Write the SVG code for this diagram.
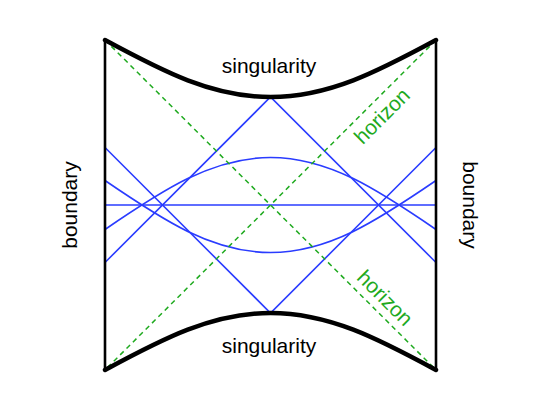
<svg xmlns="http://www.w3.org/2000/svg" width="545" height="402" viewBox="0 0 545 402">
<style>
.lbl{font-family:"Liberation Sans",Arial,sans-serif;font-size:21px;fill:#000;text-anchor:middle}
.hz{font-family:"Liberation Sans",Arial,sans-serif;font-size:21px;fill:#1faa1f;text-anchor:middle}
.bnd{fill:none;stroke:#000;stroke-width:2.6}
.sing{fill:none;stroke:#000;stroke-width:4.5;stroke-linecap:round}
.ray{fill:none;stroke:#2a3cff;stroke-width:1.6}
.hor{fill:none;stroke:#1faa1f;stroke-width:1.5;stroke-dasharray:5,4}
</style>
<rect width="545" height="402" fill="#fff"/>
<g id="connectors">
  <path class="ray" d="M105,205 H436"/>
  <path class="ray" d="M105,262.5 L270.5,97 L436,262.5"/>
  <path class="ray" d="M105,147.5 L270.5,313 L436,147.5"/>
  <path class="ray" d="M105,180.5 C163.2,220.3 212.3,252.5 270.5,252.5 C328.7,252.5 377.8,220.3 436,180.5"/>
  <path class="ray" d="M105,229.5 C163.2,189.7 212.3,157.5 270.5,157.5 C328.7,157.5 377.8,189.7 436,229.5"/>
  <path class="hor" d="M105,40 L436,370"/>
  <path class="hor" d="M436,40 L105,370"/>
</g>
<g id="boundary-left">
  <path class="bnd" d="M105,40 V370"/>
  <text class="lbl" transform="translate(77,205) rotate(-90)">boundary</text>
</g>
<g id="boundary-right">
  <path class="bnd" d="M436,40 V370"/>
  <text class="lbl" transform="translate(463,205) rotate(90)">boundary</text>
</g>
<g id="singularity-top">
  <path class="sing" d="M105,40 C163.2,71.5 212.3,97 270.5,97 C328.7,97 377.8,71.5 436,40"/>
  <text class="lbl" x="269" y="72.5">singularity</text>
</g>
<g id="singularity-bottom">
  <path class="sing" d="M105,370 C163.2,338.5 212.3,313 270.5,313 C328.7,313 377.8,338.5 436,370"/>
  <text class="lbl" x="269" y="353">singularity</text>
</g>
<g id="horizon-upper">
  <text class="hz" transform="translate(387,121) rotate(-45)">horizon</text>
</g>
<g id="horizon-lower">
  <text class="hz" transform="translate(380,303) rotate(45)">horizon</text>
</g>
</svg>
